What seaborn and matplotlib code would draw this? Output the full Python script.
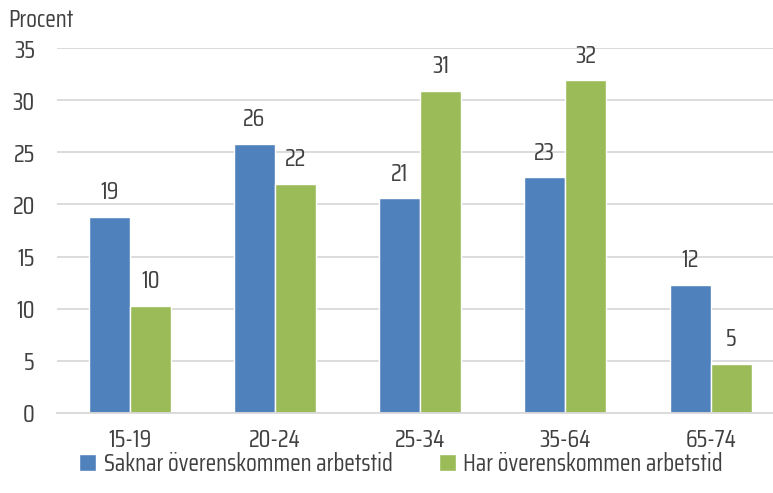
import matplotlib
matplotlib.use("Agg")
import matplotlib.pyplot as plt
import seaborn as sns
import pandas as pd

age_groups = ["15-19", "20-24", "25-34", "35-64", "65-74"]
saknar = [18.8, 25.8, 20.6, 22.6, 12.3]
har = [10.3, 22.0, 30.9, 31.9, 4.7]
series_names = ["Saknar överenskommen arbetstid", "Har överenskommen arbetstid"]
colors = ["#4f81bd", "#9bbb59"]
y_ticks = [0, 5, 10, 15, 20, 25, 30, 35]

df = pd.DataFrame({
    "Ålder": age_groups * 2,
    "Procent": saknar + har,
    "Serie": [series_names[0]] * len(age_groups) + [series_names[1]] * len(age_groups),
})

sns.set_theme(style="white")
plt.rcParams["font.family"] = ["Saira Condensed", "DejaVu Sans"]
text_color = "#404040"
fs = 17.5

W, H = 773, 493
fig = plt.figure(figsize=(W / 100, H / 100), dpi=100)
left, right = 57, 773
bottom, top = 413, 48
ax = fig.add_axes([left / W, 1 - bottom / H, (right - left) / W, (bottom - top) / H])

sns.barplot(data=df, x="Ålder", y="Procent", hue="Serie", palette=colors,
            width=0.565, saturation=1, ax=ax, legend=True)

for cont in ax.containers:
    ax.bar_label(cont, labels=[f"{b.get_height():.0f}" for b in cont],
                 padding=9, fontsize=fs, color=text_color)

ax.set_ylim(0, 35)
ax.set_xlim(-0.5, -0.5 + (right - left) / 145.25)
ax.set_yticks(y_ticks)
ax.set_yticklabels([str(t) for t in y_ticks], fontsize=fs, color=text_color)
ax.tick_params(axis="x", labelsize=fs, labelcolor=text_color, pad=11, length=0)
ax.tick_params(axis="y", length=0, pad=16)
ax.yaxis.grid(True, color="#d9d9d9", linewidth=1.3)
ax.set_axisbelow(True)
for s in ["left", "right", "top"]:
    ax.spines[s].set_visible(False)
ax.spines["bottom"].set_color("#d9d9d9")
ax.spines["bottom"].set_linewidth(1.3)
ax.set_xlabel("")
ax.set_ylabel("")

fig.text(8 / W, 1 - 20 / H, "Procent", fontsize=fs, color=text_color, va="center", ha="left")

handles, labels = ax.get_legend_handles_labels()
ax.get_legend().remove()
fig.legend(handles, labels, loc="center", bbox_to_anchor=(401 / W, 1 - 464 / H), ncol=2,
           frameon=False, fontsize=fs, labelcolor=text_color, handlelength=0.7,
           handleheight=0.7, handletextpad=0.3, columnspacing=1.9)

fig.savefig("out.png", dpi=100)
